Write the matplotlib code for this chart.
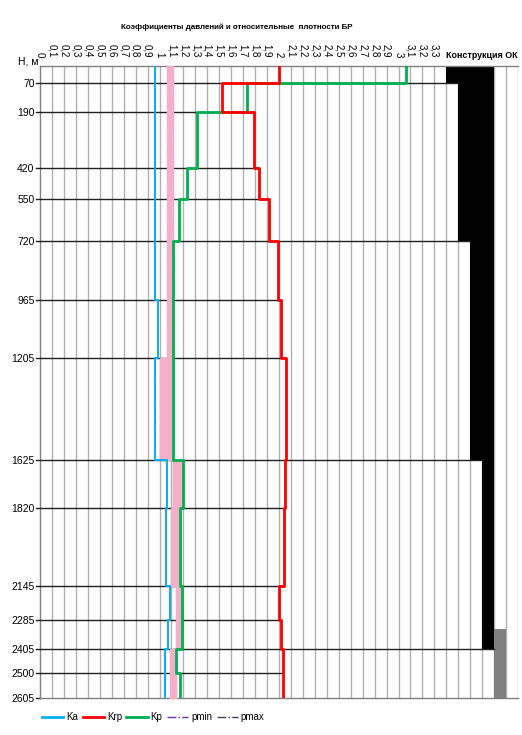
import numpy as np
import matplotlib
matplotlib.use("Agg")
import matplotlib.pyplot as plt
from matplotlib.lines import Line2D

plt.rcParams["font.family"] = ["Liberation Sans", "DejaVu Sans"]

# ---------------- data ----------------
bounds = [0, 70, 190, 420, 550, 720, 965, 1205, 1625, 1820, 2145, 2285, 2405, 2500, 2605]
depth_labels = ["70", "190", "420", "550", "720", "965", "1205", "1625", "1820",
                "2145", "2285", "2405", "2500", "2605"]
ka = [0.96, 0.96, 0.96, 0.96, 0.96, 0.96, 0.99, 0.965, 1.065, 1.055, 1.09, 1.075, 1.045, 1.045]
krp = [2.0, 1.52, 1.79, 1.835, 1.92, 1.99, 2.02, 2.06, 2.05, 2.04, 2.0, 2.02, 2.035, 2.035]
kp = [3.06, 1.73, 1.31, 1.23, 1.16, 1.11, 1.11, 1.11, 1.20, 1.17, 1.19, 1.19, 1.135, 1.175]
pmin = [1.06, 1.06, 1.06, 1.06, 1.06, 1.06, 1.06, 1.0, 1.11, 1.10, 1.14, 1.135, 1.09, 1.09]
pmax = [1.11, 1.11, 1.11, 1.11, 1.11, 1.11, 1.11, 1.10, 1.20, 1.17, 1.19, 1.19, 1.135, 1.135]

# casing construction (shoe depths) and liner
casing_shoes = [70, 720, 1625, 2405]
liner_top = 2320
liner_bottom = 2605

x_ticks = [round(0.1 * i, 1) for i in range(34)]
x_tick_labels = [("%g" % v).replace(".", ",") for v in x_ticks]

title = "Коэффициенты давлений и относительные  плотности БР"
panel_title = "Конструкция ОК"
legend_names = ["Ka", "Krp", "Kp", "pmin", "pmax"]

# ---------------- figure ----------------
W, H = 522, 735
fig = plt.figure(figsize=(W / 100, H / 100), dpi=100)
ax = fig.add_axes([40 / W, 1 - 698 / H, 478 / W, 632 / H])

ax.set_xlim(0, 4.0)
ax.set_ylim(bounds[-1], 0)

# vertical grid
for i in range(1, 41):
    ax.axvline(i * 0.1, color="#b0b0b0", lw=1.0, zorder=1)

def step_xy(vals):
    ys = np.column_stack([bounds[:-1], bounds[1:]]).ravel()
    xs = np.repeat(vals, 2)
    return xs, ys

# casing blocks
col_x0 = 3.4
for k, shoe in enumerate(casing_shoes):
    ax.fill_between([col_x0 + 0.1 * k, col_x0 + 0.1 * (k + 1)], 0, shoe,
                    color="black", lw=0, zorder=2)
ax.fill_between([col_x0 + 0.4, col_x0 + 0.5], liner_top, liner_bottom,
                color="#808080", lw=0, zorder=2)

# horizontal boundary lines
for j, d in enumerate(bounds[1:-1], start=1):
    if d in casing_shoes:
        xr = col_x0 + 0.1 * (casing_shoes.index(d) + 1)
    else:
        xr = max(krp[j - 1], krp[j])
    ax.plot([-0.03, xr], [d, d], color="#202020", lw=1.0, zorder=3, clip_on=False)
ax.plot([-0.03, 0], [bounds[-1], bounds[-1]], color="#202020", lw=1.0, clip_on=False)

# pmin / pmax and density band
xs, ys = step_xy(pmin)
ax.plot(xs, ys, color="#7030A0", lw=0.8, ls="-.", zorder=3)
xs2, _ = step_xy(pmax)
ax.plot(xs2, ys, color="#404060", lw=0.8, ls="-.", zorder=3)
ax.fill_betweenx(ys, xs, xs2, facecolor="#F5B0C9", edgecolor="#F5B0C9", lw=1.0, zorder=4)

# curves
xs, ys = step_xy(ka)
ax.plot(xs, ys, color="#00B0F0", lw=1.4, zorder=5)
xs, ys = step_xy(kp)
ax.plot(xs, ys, color="#00B050", lw=2.0, zorder=5)
xs, ys = step_xy(krp)
ax.plot(xs, ys, color="#FF0000", lw=2.0, zorder=6)

# axes styling
for s in ["left", "top", "bottom", "right"]:
    ax.spines[s].set_color("#808080")
    ax.spines[s].set_linewidth(1.0)
ax.spines["right"].set_visible(False)

ax.xaxis.tick_top()
ax.set_xticks(x_ticks)
ax.set_xticklabels(x_tick_labels, rotation=270, fontsize=7, va="bottom", ha="center")
ax.tick_params(axis="x", length=0, pad=6)

ax.set_yticks(bounds[1:])
ax.set_yticklabels(depth_labels, fontsize=7.5)
ax.tick_params(axis="y", length=0, pad=4)

fig.text(237 / W, 1 - 27 / H, title, ha="center", va="center", fontsize=5.8,
         fontweight="bold")
fig.text(482 / W, 1 - 55 / H, panel_title, ha="center", va="center", fontsize=6.4,
         fontweight="bold")
fig.text(38 / W, 1 - 62 / H, "Н, м", ha="right", va="center", fontsize=7.5)

# legend
handles = [
    Line2D([], [], color="#00B0F0", lw=2),
    Line2D([], [], color="#FF0000", lw=2),
    Line2D([], [], color="#00B050", lw=2),
    Line2D([], [], color="#7030A0", lw=1, ls="-."),
    Line2D([], [], color="#404060", lw=1, ls="-."),
]
fig.legend(handles, legend_names, loc="center left", bbox_to_anchor=(40 / W, 1 - 717 / H),
           ncol=5, frameon=False, fontsize=7, handlelength=2.2, handletextpad=0.3,
           columnspacing=0.45, borderpad=0.2, borderaxespad=0)

fig.savefig("out.png", dpi=100)
